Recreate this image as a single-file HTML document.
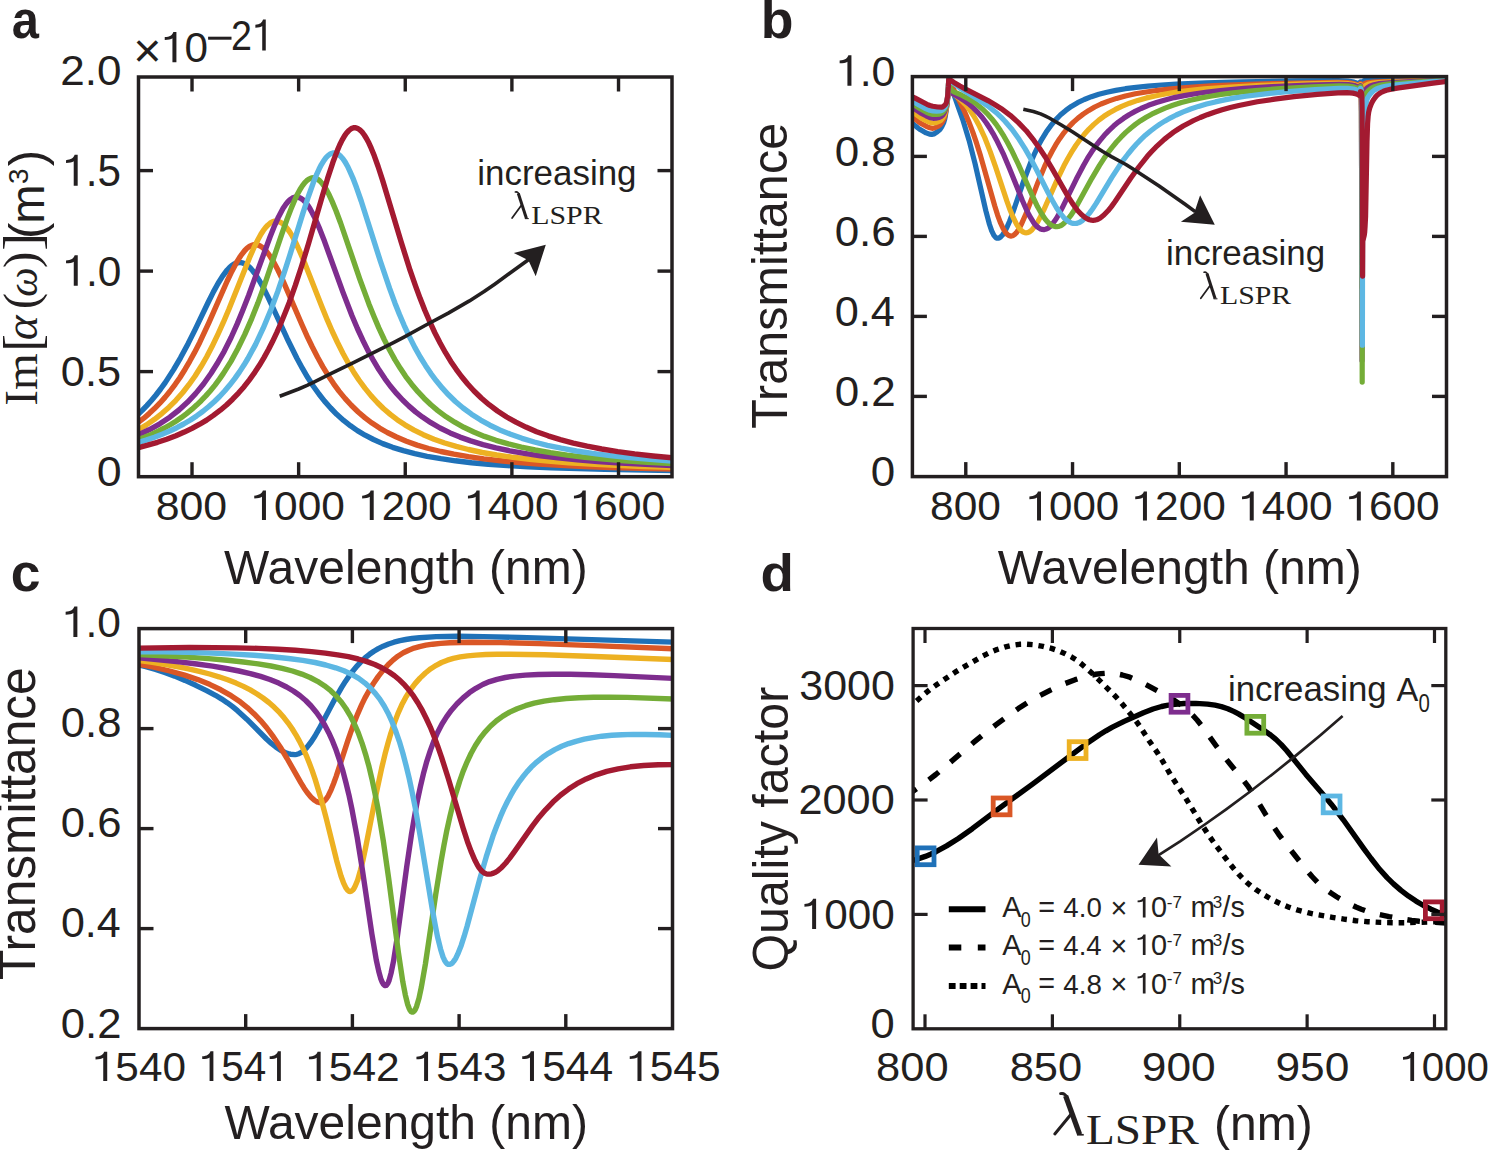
<!DOCTYPE html>
<html><head><meta charset="utf-8"><style>
html,body{margin:0;padding:0;background:#fff;}
svg{display:block;}
text{fill:#231f20;}
</style></head><body>
<svg width="1493" height="1151" viewBox="0 0 1493 1151">
<rect width="1493" height="1151" fill="#fff"/>
<defs><clipPath id="ca"><rect x="138.5" y="77.0" width="533.5" height="399.7"/></clipPath><clipPath id="cb"><rect x="912.4" y="76.6" width="534.1" height="400.0"/></clipPath><clipPath id="cc"><rect x="139.0" y="628.6" width="533.5" height="399.9999999999999"/></clipPath><clipPath id="cd"><rect x="913.1" y="628.5" width="532.6999999999999" height="400.29999999999995"/></clipPath></defs>
<polyline points="137.6,414.8 142.2,410.4 146.8,405.6 151.4,400.5 156.0,395.0 160.6,389.0 165.2,382.6 173.6,369.6 180.5,357.8 188.2,343.4 195.1,329.6 208.1,302.5 213.4,291.9 218.0,283.5 222.6,276.1 227.2,270.0 229.5,267.6 231.8,265.6 234.1,264.1 236.4,263.1 238.7,262.6 241.0,262.6 243.3,263.2 245.6,264.3 247.9,265.9 250.2,267.9 252.5,270.5 254.8,273.5 259.4,280.6 263.2,287.5 267.8,296.6 287.0,338.2 296.9,358.3 302.3,368.2 307.6,377.3 313.0,385.7 319.1,394.3 324.5,401.1 330.6,408.0 336.7,414.3 343.6,420.4 350.5,425.8 357.4,430.6 365.1,435.2 373.5,439.5 382.7,443.6 392.6,447.3 403.4,450.7 414.8,453.7 427.1,456.3 440.9,458.7 455.4,460.8 471.5,462.7 488.3,464.2 507.5,465.6 528.2,466.8 551.1,467.8 604.7,469.4 672.9,470.5" fill="none" stroke="#1f71b8" stroke-width="5.4" stroke-linejoin="round" stroke-linecap="butt" clip-path="url(#ca)" />
<polyline points="137.6,422.9 143.8,418.2 149.1,413.6 154.5,408.6 159.8,403.2 165.2,397.1 169.8,391.5 175.2,384.3 179.8,377.7 185.1,369.2 189.7,361.3 194.3,352.9 199.7,342.4 208.8,322.8 227.2,281.0 231.8,271.4 236.4,262.7 239.5,257.6 241.8,254.3 244.8,250.5 247.1,248.2 249.4,246.5 251.7,245.3 254.0,244.7 256.3,244.7 257.9,245.0 260.2,246.0 262.5,247.5 264.7,249.5 267.0,252.1 269.3,255.1 273.9,262.5 277.8,269.8 282.4,279.4 302.3,325.5 307.6,337.3 312.2,346.8 317.6,357.3 322.9,366.9 328.3,375.7 333.7,383.8 339.0,391.1 345.2,398.6 351.3,405.3 358.2,412.0 365.1,417.9 372.0,423.1 379.6,428.1 387.3,432.5 396.5,437.0 406.4,441.2 417.1,445.1 428.6,448.5 440.9,451.5 453.9,454.2 468.4,456.7 483.8,458.9 500.6,460.8 519.0,462.5 538.9,464.0 560.3,465.3 584.1,466.5 610.9,467.5 672.9,469.0" fill="none" stroke="#da5726" stroke-width="5.4" stroke-linejoin="round" stroke-linecap="butt" clip-path="url(#ca)" />
<polyline points="137.6,430.1 146.1,425.1 154.5,419.3 162.1,413.3 169.0,407.2 175.9,400.3 182.8,392.5 188.9,384.7 195.1,376.0 201.2,366.3 206.6,357.0 211.9,346.8 218.0,334.1 223.4,322.2 228.8,309.5 249.4,257.9 254.0,247.5 257.9,239.8 260.9,234.3 263.2,230.7 265.5,227.7 267.8,225.2 270.1,223.2 272.4,221.9 274.7,221.2 277.0,221.1 278.5,221.4 280.8,222.4 283.1,224.1 285.4,226.3 287.7,229.1 290.0,232.4 292.3,236.2 295.4,242.0 299.2,250.1 303.8,260.8 322.2,307.4 327.5,320.4 332.1,331.0 337.5,342.5 342.9,353.2 348.2,363.0 353.6,371.9 358.9,380.0 365.1,388.4 371.2,395.9 377.3,402.5 383.4,408.5 390.3,414.4 397.2,419.7 404.9,424.8 414.1,430.1 423.3,434.7 434.0,439.2 444.7,443.0 456.2,446.4 468.4,449.5 482.2,452.5 496.8,455.0 512.9,457.3 529.7,459.3 548.1,461.1 568.8,462.7 591.0,464.1 615.5,465.4 643.0,466.5 672.9,467.4" fill="none" stroke="#edb122" stroke-width="5.4" stroke-linejoin="round" stroke-linecap="butt" clip-path="url(#ca)" />
<polyline points="137.6,435.2 149.1,429.8 159.8,423.8 169.8,417.2 179.0,410.0 187.4,402.3 195.8,393.4 203.5,384.0 211.1,373.3 218.0,362.2 224.2,351.3 231.1,337.5 237.2,323.9 242.5,311.0 248.7,295.2 270.1,236.7 274.7,225.3 278.5,216.9 283.1,208.3 285.4,204.9 287.7,202.0 290.0,199.7 292.3,198.1 294.6,197.2 296.9,197.0 298.4,197.2 300.7,198.2 303.0,199.8 305.3,202.1 307.6,205.1 309.9,208.6 312.2,212.7 315.3,218.9 319.1,227.6 323.7,239.2 342.9,292.1 352.0,315.8 357.4,328.5 362.8,340.2 368.1,350.9 373.5,360.7 378.8,369.6 385.0,378.8 390.3,386.0 396.5,393.4 402.6,400.0 408.7,405.9 415.6,411.9 422.5,417.1 430.9,422.7 440.1,428.0 450.1,432.9 460.0,437.1 470.7,440.9 483.0,444.6 496.0,447.9 509.8,450.8 524.3,453.4 540.4,455.8 558.0,457.9 577.2,459.8 597.9,461.5 620.8,463.0 645.3,464.3 672.9,465.5" fill="none" stroke="#7e2d8e" stroke-width="5.4" stroke-linejoin="round" stroke-linecap="butt" clip-path="url(#ca)" />
<polyline points="137.6,439.9 144.5,437.3 151.4,434.4 158.3,431.2 164.4,428.0 170.6,424.5 175.9,421.2 181.3,417.6 186.6,413.6 192.0,409.2 196.6,405.1 201.2,400.7 205.8,395.9 210.4,390.7 215.0,385.1 219.6,378.9 223.4,373.4 231.1,361.1 237.9,348.5 244.8,334.4 251.7,318.6 257.9,303.1 264.0,286.4 281.6,234.7 287.0,219.4 291.6,207.4 295.4,198.5 297.7,193.7 300.0,189.5 302.3,185.9 304.6,182.9 306.9,180.5 309.2,178.9 311.5,178.0 313.8,177.8 315.3,178.1 317.6,179.2 319.9,181.0 322.2,183.5 324.5,186.7 326.8,190.5 329.1,194.8 332.1,201.4 336.0,210.7 340.6,223.0 359.7,278.8 368.9,303.9 374.3,317.2 378.8,327.9 384.2,339.5 389.6,350.0 394.9,359.6 400.3,368.3 405.6,376.3 411.8,384.4 417.9,391.7 424.0,398.2 430.9,404.8 437.8,410.6 446.2,416.8 454.7,422.2 463.8,427.3 473.8,432.0 484.5,436.4 496.0,440.3 508.3,443.9 521.3,447.1 535.1,450.0 550.4,452.7 567.2,455.1 584.8,457.2 604.0,459.1 624.7,460.8 647.6,462.4 672.9,463.7" fill="none" stroke="#74ad37" stroke-width="5.4" stroke-linejoin="round" stroke-linecap="butt" clip-path="url(#ca)" />
<polyline points="137.6,442.6 146.1,440.1 154.5,437.2 162.1,434.2 169.8,431.0 176.7,427.7 183.6,424.0 190.5,420.0 196.6,415.9 202.7,411.5 208.8,406.5 214.2,401.7 219.6,396.5 224.9,390.7 229.5,385.3 234.9,378.4 239.5,371.9 244.1,364.8 247.9,358.5 255.6,344.4 263.2,328.2 270.9,309.8 277.8,291.4 284.7,271.2 290.8,252.2 303.0,212.9 308.4,196.5 313.0,183.6 316.8,174.1 319.1,169.1 321.4,164.6 323.7,160.8 326.0,157.7 328.3,155.4 330.6,153.8 332.9,153.0 334.4,152.9 336.0,153.2 338.3,154.3 340.6,156.2 342.9,158.8 345.2,162.1 347.5,166.2 349.7,170.8 352.8,177.8 356.6,187.8 361.2,201.0 380.4,261.3 389.6,288.4 394.9,302.9 399.5,314.5 404.1,325.3 409.5,336.9 414.8,347.4 420.2,357.0 425.6,365.7 430.9,373.6 436.3,380.8 442.4,388.2 448.5,394.8 455.4,401.5 463.1,408.0 471.5,414.2 480.7,420.1 489.9,425.2 499.8,429.9 510.6,434.3 522.0,438.3 534.3,442.0 547.3,445.3 561.1,448.2 576.4,451.0 592.5,453.4 610.1,455.6 629.2,457.6 649.9,459.4 672.9,461.0" fill="none" stroke="#5db7e3" stroke-width="5.4" stroke-linejoin="round" stroke-linecap="butt" clip-path="url(#ca)" />
<polyline points="137.6,447.8 147.6,445.2 157.5,442.3 166.7,439.2 175.9,435.7 184.3,432.1 192.0,428.4 199.7,424.2 206.6,420.1 213.4,415.4 220.3,410.2 226.5,405.0 232.6,399.2 238.7,392.8 244.1,386.7 249.4,379.8 254.8,372.3 259.4,365.3 264.0,357.6 268.6,349.3 272.4,341.8 277.0,332.2 280.8,323.5 285.4,312.3 289.3,302.4 295.4,285.2 301.5,266.5 308.4,244.0 322.2,196.5 327.5,178.7 332.9,162.3 337.5,150.1 339.8,144.8 342.1,140.1 344.4,136.1 346.7,132.8 349.0,130.3 351.3,128.6 353.6,127.8 355.1,127.7 357.4,128.3 359.7,129.7 362.0,131.9 364.3,135.0 366.6,138.7 368.9,143.1 371.2,148.2 374.3,155.8 378.1,166.5 382.7,180.6 401.1,241.8 410.2,270.7 415.6,286.2 420.2,298.6 424.8,310.2 430.2,322.7 434.7,332.5 440.1,343.0 445.5,352.7 450.8,361.4 456.2,369.3 461.5,376.5 467.7,384.0 473.8,390.7 481.5,398.2 489.1,404.7 497.5,411.0 506.7,417.0 515.9,422.2 525.9,427.1 536.6,431.7 548.1,435.8 560.3,439.6 573.3,443.1 587.1,446.2 601.7,449.0 617.8,451.6 634.6,453.9 653.0,456.0 672.9,457.9" fill="none" stroke="#a31a31" stroke-width="5.4" stroke-linejoin="round" stroke-linecap="butt" clip-path="url(#ca)" />
<polyline points="911.3,122.4 918.0,128.0 920.2,129.6 926.1,132.9 929.5,134.1 931.7,134.4 933.9,133.9 936.9,132.1 939.9,129.5 941.7,126.8 943.6,122.9 944.7,119.3 945.4,115.7 947.3,103.0 948.4,89.4 948.7,78.9 952.4,90.3 963.2,120.9 969.1,140.4 975.0,163.4 985.8,210.7 989.5,224.5 991.7,230.9 993.9,235.4 995.8,237.6 996.9,238.2 998.0,238.2 999.1,237.9 1000.2,237.3 1002.5,235.0 1004.7,231.7 1007.3,226.6 1009.5,221.4 1012.1,214.6 1024.3,179.2 1031.0,161.8 1034.7,153.3 1038.4,145.6 1042.1,138.8 1046.2,132.1 1050.6,125.9 1055.4,120.1 1060.6,114.8 1065.8,110.4 1071.3,106.4 1077.6,102.7 1084.3,99.5 1091.4,96.7 1098.8,94.3 1106.9,92.2 1115.8,90.4 1125.4,88.7 1136.2,87.3 1148.0,86.1 1161.4,85.0 1176.2,84.1 1205.8,82.8 1242.8,81.8 1296.6,80.9 1338.0,80.6 1347.7,81.1 1351.0,81.5 1354.0,82.1 1356.6,83.0 1358.6,84.1 1359.9,85.2 1360.5,86.6 1360.5,81.8 1361.0,85.8 1361.3,96.5 1361.6,175.8 1361.9,93.9 1362.4,84.5 1362.8,82.3 1363.4,81.1 1363.9,80.7 1364.6,80.5 1367.8,80.3 1447.3,79.1" fill="none" stroke="#1f71b8" stroke-width="5.2" stroke-linejoin="round" stroke-linecap="butt" clip-path="url(#cb)" />
<polyline points="911.3,116.3 920.2,123.0 925.8,126.1 929.9,127.8 932.1,128.3 934.3,128.0 937.6,126.5 939.1,125.6 940.2,124.7 942.1,122.4 943.9,118.9 944.7,116.6 945.8,111.7 946.9,104.9 947.6,98.2 948.4,89.0 948.7,78.9 952.4,87.0 960.6,103.3 964.7,111.9 968.7,121.4 972.8,132.1 976.5,142.9 980.6,156.1 994.7,205.8 997.6,215.1 1000.2,222.2 1003.2,228.7 1005.8,232.8 1007.3,234.4 1008.8,235.5 1009.9,235.9 1011.3,236.1 1012.5,235.8 1013.6,235.2 1014.7,234.4 1016.2,232.9 1018.8,229.2 1021.3,224.4 1026.2,213.3 1038.0,182.2 1044.7,166.2 1048.4,158.3 1052.1,151.2 1055.8,144.7 1059.5,138.9 1063.9,132.8 1068.4,127.4 1073.2,122.4 1078.0,118.1 1083.2,114.1 1088.8,110.4 1094.7,107.0 1101.0,104.0 1108.4,101.1 1116.5,98.4 1125.4,96.0 1135.4,93.8 1146.2,92.0 1158.0,90.3 1171.4,88.8 1185.8,87.5 1214.3,85.7 1248.8,84.3 1294.7,83.0 1337.3,82.4 1347.3,82.7 1351.0,83.1 1354.0,83.7 1356.6,84.6 1358.6,85.7 1359.8,86.9 1360.5,88.3 1360.5,83.6 1360.9,85.3 1361.1,88.5 1361.4,102.1 1361.7,215.0 1362.1,102.1 1362.6,89.7 1363.1,86.2 1363.7,84.3 1364.8,83.4 1366.9,82.8 1370.8,82.3 1376.1,81.8 1447.3,79.5" fill="none" stroke="#da5726" stroke-width="5.2" stroke-linejoin="round" stroke-linecap="butt" clip-path="url(#cb)" />
<polyline points="911.3,111.1 920.2,117.4 926.1,120.6 930.6,122.6 932.8,123.0 935.4,122.7 939.1,121.4 941.0,120.2 942.8,117.9 944.3,115.2 945.4,111.6 946.2,108.2 947.3,101.4 947.6,97.8 948.4,88.6 948.7,79.3 949.9,87.5 950.6,90.1 951.3,91.7 953.2,93.8 958.4,97.9 961.7,100.9 964.7,103.9 967.3,106.9 970.6,111.3 973.6,115.7 976.5,120.7 979.5,126.3 984.7,137.5 990.2,151.6 995.4,166.4 1006.9,201.1 1010.2,210.3 1013.2,217.5 1016.5,224.2 1018.4,227.2 1019.9,229.1 1021.7,231.0 1023.2,232.0 1024.7,232.6 1026.5,232.8 1027.6,232.6 1029.1,232.0 1030.6,231.0 1032.1,229.7 1035.0,226.1 1038.0,221.4 1040.6,216.5 1043.6,210.4 1056.9,180.4 1063.9,165.8 1068.0,158.2 1071.7,151.9 1075.8,145.5 1079.9,139.8 1084.3,134.3 1088.8,129.3 1093.6,124.6 1098.8,120.1 1103.9,116.3 1109.5,112.7 1115.4,109.4 1121.7,106.3 1129.5,103.2 1137.7,100.4 1146.5,97.9 1156.2,95.7 1166.5,93.7 1178.0,91.9 1190.6,90.3 1204.3,88.9 1230.3,87.0 1261.4,85.4 1302.5,83.9 1338.4,83.2 1348.0,83.6 1351.4,84.0 1354.3,84.6 1356.8,85.5 1358.7,86.6 1359.8,87.8 1360.5,89.3 1360.5,84.6 1361.0,87.0 1361.2,91.6 1361.5,112.7 1361.9,286.9 1362.3,115.3 1362.5,104.3 1362.9,96.6 1363.5,90.3 1364.2,87.0 1364.7,86.1 1365.4,85.5 1367.9,84.3 1372.1,83.3 1377.6,82.6 1387.4,82.0 1447.3,79.6" fill="none" stroke="#edb122" stroke-width="5.2" stroke-linejoin="round" stroke-linecap="butt" clip-path="url(#cb)" />
<polyline points="911.3,106.8 920.2,112.6 926.1,115.8 930.6,117.8 933.2,118.3 935.8,118.2 939.1,117.5 941.3,116.4 942.8,115.0 944.3,112.7 945.4,109.7 946.5,105.1 947.3,100.8 947.6,97.3 948.4,88.2 948.7,79.4 949.1,83.2 949.9,88.1 950.6,90.7 951.7,92.7 953.6,94.3 960.2,98.0 965.0,101.2 969.5,104.5 973.6,108.1 978.0,112.6 982.1,117.3 986.2,122.7 989.9,128.3 993.2,133.8 996.5,139.9 1003.2,153.6 1009.5,168.4 1022.5,200.7 1026.2,209.1 1029.1,215.1 1033.2,221.9 1035.0,224.4 1036.9,226.4 1038.8,227.9 1040.6,229.0 1042.1,229.4 1043.9,229.6 1045.4,229.3 1046.9,228.8 1048.4,227.9 1049.9,226.7 1052.8,223.5 1056.2,218.7 1059.1,213.7 1062.1,208.1 1076.2,179.3 1083.6,165.3 1087.6,158.2 1091.7,151.8 1095.8,145.9 1099.9,140.6 1104.3,135.3 1108.8,130.6 1113.6,126.1 1118.4,122.1 1123.6,118.3 1129.1,114.7 1135.1,111.4 1141.0,108.5 1148.4,105.3 1156.5,102.5 1165.1,99.9 1174.3,97.6 1184.3,95.6 1195.4,93.7 1207.3,92.0 1220.3,90.5 1244.3,88.4 1272.1,86.6 1308.8,85.1 1339.2,84.3 1348.4,84.6 1351.7,85.0 1354.3,85.6 1356.8,86.4 1358.6,87.5 1359.8,88.8 1360.5,90.3 1360.5,85.6 1361.0,88.2 1361.3,93.3 1361.7,119.3 1362.0,360.5 1362.2,189.2 1362.5,133.9 1362.7,121.5 1363.1,111.9 1364.1,96.9 1364.5,93.3 1365.0,91.0 1365.6,89.7 1366.5,88.5 1367.9,87.4 1369.7,86.3 1374.0,84.7 1379.5,83.6 1391.3,82.6 1447.3,79.8" fill="none" stroke="#7e2d8e" stroke-width="5.2" stroke-linejoin="round" stroke-linecap="butt" clip-path="url(#cb)" />
<polyline points="911.3,103.5 913.9,104.9 920.2,108.8 926.1,112.0 930.2,113.8 932.8,114.4 936.1,114.5 939.5,114.1 941.7,113.2 943.2,111.9 944.7,109.7 945.8,106.9 946.5,104.1 947.3,100.2 947.6,96.9 948.4,87.8 948.7,79.2 949.5,84.5 950.2,87.4 951.0,89.1 952.1,90.6 953.9,91.8 961.7,95.2 967.3,98.1 972.5,101.2 977.3,104.7 982.1,108.7 986.9,113.3 991.7,118.7 996.2,124.4 1000.2,130.3 1003.9,136.2 1007.6,142.7 1011.3,149.7 1018.4,164.4 1033.6,198.5 1037.6,206.8 1041.0,212.8 1045.1,219.0 1047.3,221.6 1049.1,223.4 1051.3,225.1 1053.2,226.0 1055.1,226.6 1056.9,226.7 1058.4,226.5 1060.2,225.9 1061.7,225.1 1063.6,223.7 1066.9,220.4 1070.6,215.7 1073.6,211.2 1076.9,205.6 1091.7,178.6 1099.5,165.4 1103.9,158.6 1108.0,152.7 1112.1,147.4 1116.5,142.0 1121.0,137.2 1125.8,132.4 1130.6,128.2 1135.4,124.4 1140.6,120.7 1146.2,117.3 1151.7,114.2 1157.7,111.3 1165.1,108.1 1172.8,105.3 1181.4,102.6 1190.3,100.3 1199.9,98.1 1210.3,96.2 1221.4,94.4 1233.2,92.9 1255.1,90.6 1280.3,88.6 1312.5,86.9 1339.2,85.9 1348.4,86.1 1351.7,86.5 1354.3,87.1 1356.7,87.9 1358.6,88.9 1359.8,90.1 1360.5,91.5 1360.5,86.7 1361.1,89.3 1361.5,94.5 1361.8,120.8 1362.2,382.1 1362.4,207.1 1362.6,150.2 1363.0,134.4 1364.3,107.0 1364.9,99.2 1365.6,95.0 1366.3,93.3 1367.4,91.7 1369.0,90.0 1370.9,88.5 1372.9,87.4 1375.1,86.4 1380.5,85.0 1385.4,84.3 1392.8,83.7 1447.3,80.1" fill="none" stroke="#74ad37" stroke-width="5.2" stroke-linejoin="round" stroke-linecap="butt" clip-path="url(#cb)" />
<polyline points="911.3,100.7 913.9,102.0 919.5,105.2 925.8,108.6 929.9,110.3 932.8,110.9 936.5,111.1 939.9,110.9 942.1,110.2 943.6,109.1 945.0,107.0 946.2,104.5 946.9,101.5 947.6,96.6 948.4,87.4 948.7,78.8 953.6,83.3 959.5,87.8 965.0,91.4 980.6,101.0 989.1,106.9 997.3,113.6 1001.3,117.4 1005.0,121.2 1012.1,129.5 1019.1,139.3 1025.0,148.6 1031.0,159.1 1036.5,169.7 1048.0,192.5 1052.5,200.8 1056.5,207.7 1060.2,213.2 1063.9,217.7 1067.6,220.9 1069.5,222.1 1071.3,222.9 1073.2,223.4 1075.1,223.5 1076.5,223.4 1078.4,222.8 1080.2,222.0 1082.1,220.8 1085.8,217.4 1089.5,213.1 1092.5,209.0 1096.2,203.4 1111.7,177.7 1119.5,165.6 1123.9,159.3 1128.0,154.0 1132.1,149.0 1136.5,144.0 1141.0,139.4 1145.4,135.2 1150.2,131.2 1155.1,127.5 1159.9,124.1 1165.1,120.9 1170.6,117.8 1176.2,115.0 1183.2,111.9 1190.6,109.0 1198.4,106.4 1206.5,104.1 1215.4,101.9 1224.7,99.9 1235.1,97.9 1245.8,96.3 1265.4,93.8 1287.7,91.6 1315.1,89.6 1338.8,88.4 1347.7,88.4 1353.6,89.1 1356.1,89.8 1358.1,90.7 1359.6,91.8 1360.5,93.0 1360.5,88.3 1361.2,90.1 1361.6,94.0 1362.0,115.4 1362.4,345.2 1362.6,212.3 1362.8,174.8 1363.1,164.9 1364.3,143.8 1365.4,111.6 1366.0,104.2 1366.9,99.8 1367.8,97.6 1369.2,95.4 1370.8,93.3 1372.7,91.5 1374.6,90.0 1376.6,88.9 1379.0,87.9 1382.0,87.1 1386.9,86.1 1394.3,85.2 1432.5,81.7 1447.3,80.5" fill="none" stroke="#5db7e3" stroke-width="5.2" stroke-linejoin="round" stroke-linecap="butt" clip-path="url(#cb)" />
<polyline points="911.3,96.4 914.7,97.9 926.9,104.3 929.9,105.5 932.8,106.2 937.6,107.0 941.3,107.2 942.4,106.9 943.9,106.0 945.4,104.5 946.2,103.2 946.9,100.6 947.6,96.2 948.4,86.9 948.7,78.8 953.9,82.4 959.9,86.0 966.5,89.6 988.0,100.6 995.0,104.7 1001.3,108.7 1010.2,115.3 1018.4,122.6 1026.2,130.7 1033.9,140.4 1039.5,148.2 1045.1,156.7 1051.7,167.9 1068.0,196.4 1073.2,204.5 1077.6,210.5 1081.7,214.8 1085.4,217.8 1087.6,219.0 1089.5,219.7 1091.4,220.1 1093.2,220.3 1094.7,220.2 1096.5,219.8 1098.4,219.0 1100.2,218.0 1103.9,215.0 1108.0,210.8 1111.4,206.6 1115.1,201.5 1131.0,177.8 1138.8,167.0 1147.3,156.3 1151.4,151.8 1155.8,147.2 1164.3,139.4 1168.8,135.8 1173.6,132.2 1178.4,129.0 1183.2,126.0 1193.6,120.5 1200.3,117.5 1207.3,114.7 1214.3,112.2 1222.1,109.8 1230.3,107.5 1238.8,105.5 1257.3,101.8 1274.7,99.1 1294.0,96.7 1317.3,94.4 1338.0,92.9 1346.9,92.6 1352.9,93.1 1355.5,93.7 1357.5,94.4 1359.3,95.3 1360.5,96.3 1360.5,91.5 1361.0,91.9 1361.4,92.4 1361.8,94.3 1362.1,108.0 1362.6,276.1 1362.8,241.0 1364.3,235.0 1364.7,232.2 1365.1,226.2 1365.6,216.3 1367.0,141.9 1367.6,123.4 1368.1,116.7 1368.7,112.2 1369.6,108.4 1371.1,104.4 1372.4,101.7 1373.9,99.2 1375.6,96.9 1377.1,95.3 1379.0,93.7 1381.0,92.5 1383.5,91.3 1386.4,90.2 1391.3,89.1 1398.7,87.9 1433.0,83.1 1447.3,81.4" fill="none" stroke="#a31a31" stroke-width="5.2" stroke-linejoin="round" stroke-linecap="butt" clip-path="url(#cb)" />
<polyline points="136.0,664.3 145.8,666.7 155.6,669.5 165.4,672.7 174.7,676.1 185.0,680.4 195.8,685.3 206.6,690.6 215.5,695.3 221.8,699.1 227.2,702.7 232.6,706.7 237.5,710.7 246.8,719.2 266.5,739.0 271.4,743.5 275.8,747.0 280.7,750.3 285.6,752.7 288.0,753.6 290.5,754.2 294.9,754.6 296.9,754.3 298.8,753.7 300.8,752.7 302.8,751.4 306.7,747.7 311.1,742.0 315.0,736.0 318.9,729.2 334.1,700.6 341.5,687.7 345.4,681.4 349.3,675.7 353.3,670.5 357.2,665.8 361.1,661.6 365.0,657.9 369.5,654.3 373.9,651.2 378.3,648.6 383.2,646.2 388.6,644.0 394.0,642.2 399.9,640.6 405.7,639.5 412.1,638.5 419.5,637.7 436.2,636.6 457.7,636.3 483.2,636.6 519.0,637.4 675.0,642.2" fill="none" stroke="#1f71b8" stroke-width="5.4" stroke-linejoin="round" stroke-linecap="butt" clip-path="url(#cc)" />
<polyline points="136.0,663.6 153.7,667.1 169.8,671.0 184.6,675.1 197.8,679.6 210.1,684.6 220.8,689.8 231.1,695.7 240.5,702.1 247.3,707.6 254.2,713.9 260.6,720.6 266.5,727.5 273.3,736.7 280.2,747.0 287.1,758.5 300.8,782.6 304.2,788.2 307.2,792.5 311.1,797.2 314.5,800.3 316.5,801.5 318.0,802.2 319.4,802.5 320.9,802.7 321.9,802.5 323.4,801.8 324.3,801.0 325.8,799.4 328.3,795.7 331.2,789.6 333.6,783.5 336.1,776.6 347.9,740.4 354.2,722.4 357.7,713.8 361.6,704.9 365.0,697.9 369.0,690.7 373.4,683.5 378.3,676.4 383.2,670.2 388.1,664.7 393.0,660.1 397.9,656.2 403.3,652.8 408.7,650.2 414.1,648.1 419.5,646.6 425.9,645.2 432.7,644.2 440.6,643.4 449.9,642.8 472.0,642.3 500.9,642.6 539.6,643.6 594.1,645.6 675.0,648.9" fill="none" stroke="#da5726" stroke-width="5.4" stroke-linejoin="round" stroke-linecap="butt" clip-path="url(#cc)" />
<polyline points="136.0,660.1 150.7,662.1 164.4,664.3 176.7,666.5 188.5,668.8 199.3,671.3 209.6,674.0 218.9,676.8 227.7,679.8 236.1,683.1 243.4,686.4 250.3,689.9 257.1,694.0 263.0,698.0 268.9,702.5 274.3,707.3 279.7,712.7 284.1,717.8 288.0,722.8 292.0,728.5 295.9,734.8 299.3,740.9 302.8,747.8 306.2,755.3 309.1,762.5 312.1,770.4 315.0,778.9 320.9,798.3 326.3,818.6 336.6,860.4 341.0,876.0 343.5,882.8 345.9,887.9 347.4,889.9 348.4,890.8 349.3,891.3 350.3,891.5 351.3,891.2 352.8,890.0 353.8,888.8 355.2,886.1 357.7,879.9 360.6,869.7 363.1,859.5 365.5,848.1 376.3,793.3 381.7,768.0 385.1,753.8 388.1,742.7 391.0,732.8 394.5,722.6 397.9,713.6 401.8,704.8 405.7,697.4 410.2,690.2 415.1,683.6 420.0,678.1 425.4,673.0 430.8,668.7 436.2,665.3 441.5,662.5 447.4,660.2 453.3,658.4 460.2,656.9 467.5,655.9 475.9,655.1 485.7,654.5 497.0,654.3 510.2,654.2 544.5,654.8 594.6,656.5 675.0,659.6" fill="none" stroke="#edb122" stroke-width="5.4" stroke-linejoin="round" stroke-linecap="butt" clip-path="url(#cc)" />
<polyline points="136.0,657.5 159.1,659.7 179.2,661.9 196.8,664.0 212.5,666.2 226.2,668.5 239.0,671.0 250.3,673.6 260.6,676.4 269.9,679.5 278.7,683.1 286.6,687.0 293.4,691.0 299.8,695.5 305.7,700.5 311.1,706.0 316.5,712.5 320.9,718.8 324.8,725.2 328.7,732.7 332.7,741.4 336.1,750.1 339.5,760.1 343.0,771.4 345.9,782.5 348.9,794.8 351.8,808.5 357.2,837.5 362.1,867.9 371.9,934.1 376.3,960.1 378.8,971.5 380.7,978.4 382.2,982.2 383.2,983.9 384.2,985.1 385.1,985.6 386.1,985.4 387.1,984.5 388.1,982.8 389.1,980.4 391.0,973.4 393.5,961.3 397.4,936.1 406.7,866.8 411.6,833.5 414.6,815.9 417.5,800.1 420.5,786.1 423.4,773.8 426.8,761.3 430.3,750.6 433.7,741.4 437.6,732.5 442.0,724.0 446.5,716.9 451.4,710.2 456.8,704.0 463.1,697.8 469.5,692.6 475.9,688.3 482.7,684.5 489.6,681.6 497.0,679.3 505.3,677.5 514.6,676.1 525.4,675.1 538.2,674.5 552.9,674.2 570.5,674.3 590.6,674.8 614.2,675.6 675.0,678.5" fill="none" stroke="#7e2d8e" stroke-width="5.4" stroke-linejoin="round" stroke-linecap="butt" clip-path="url(#cc)" />
<polyline points="136.0,654.3 187.5,657.1 208.6,658.6 227.2,660.2 243.4,662.0 258.1,663.9 270.9,666.0 282.2,668.4 292.5,671.0 301.8,674.1 310.1,677.5 317.5,681.3 324.3,685.7 330.7,690.7 336.1,695.9 341.5,702.2 345.9,708.5 350.3,715.8 354.2,723.6 358.2,732.6 362.1,743.3 365.5,754.1 369.0,766.6 371.9,778.8 374.8,792.5 377.8,807.8 383.2,840.2 388.6,878.0 398.4,952.6 402.8,981.8 405.3,994.8 407.7,1004.5 409.2,1008.5 410.2,1010.4 411.1,1011.6 412.1,1012.1 413.1,1012.0 414.1,1011.2 415.1,1009.8 416.5,1006.6 419.0,998.3 421.4,986.9 425.4,964.0 435.7,894.7 441.1,861.3 444.0,845.0 446.9,830.1 449.9,816.7 452.8,804.6 456.3,792.1 459.7,781.1 463.1,771.4 467.1,761.8 471.0,753.5 475.4,745.5 479.8,738.7 484.7,732.3 490.6,726.0 496.5,720.7 502.9,716.1 509.7,712.1 517.1,708.7 525.4,705.7 534.2,703.2 544.1,701.2 554.4,699.7 566.1,698.5 578.9,697.7 593.6,697.2 609.3,697.2 627.4,697.4 675.0,699.0" fill="none" stroke="#74ad37" stroke-width="5.4" stroke-linejoin="round" stroke-linecap="butt" clip-path="url(#cc)" />
<polyline points="136.0,651.7 163.0,651.9 188.5,652.4 212.0,653.1 234.1,654.1 254.2,655.3 272.3,656.8 288.5,658.5 302.8,660.4 315.0,662.5 325.8,665.0 335.6,667.8 343.9,670.8 351.8,674.4 358.7,678.4 365.0,683.1 370.4,688.0 375.3,693.4 379.8,699.1 384.2,706.0 388.1,713.2 392.0,721.7 395.9,731.6 399.4,741.6 402.8,753.0 406.2,766.0 409.2,778.4 412.1,792.0 415.1,806.9 420.9,840.1 432.2,908.8 435.2,925.1 437.6,937.2 440.6,949.2 443.0,956.9 444.5,960.2 446.0,962.6 447.4,964.0 448.4,964.4 449.9,964.3 451.4,963.7 452.8,962.4 454.3,960.5 455.8,958.2 457.7,954.2 461.2,945.4 464.1,936.4 467.1,926.3 479.8,879.0 486.2,856.9 493.0,835.8 496.5,826.5 500.4,816.7 503.8,808.9 507.3,801.8 510.7,795.4 514.6,788.7 518.5,782.7 522.5,777.3 526.9,771.9 531.3,767.1 536.7,762.1 542.6,757.3 548.5,753.3 554.8,749.6 561.7,746.3 568.6,743.6 575.9,741.3 584.3,739.2 592.6,737.6 601.9,736.2 611.7,735.3 622.0,734.7 633.3,734.4 645.6,734.5 659.3,734.8 675.0,735.5" fill="none" stroke="#5db7e3" stroke-width="5.4" stroke-linejoin="round" stroke-linecap="butt" clip-path="url(#cc)" />
<polyline points="136.0,648.2 189.5,647.5 214.0,647.6 236.5,647.9 258.1,648.4 277.7,649.2 295.4,650.3 311.6,651.6 325.3,653.1 337.6,654.8 348.4,656.7 358.2,659.0 367.0,661.6 374.8,664.5 382.2,668.0 389.1,672.0 394.5,675.8 399.9,680.3 404.8,685.2 409.2,690.3 413.6,696.2 418.0,703.0 422.4,710.7 426.3,718.5 430.3,727.1 433.7,735.5 437.6,745.9 441.5,757.1 448.4,778.7 463.6,829.7 467.5,841.7 471.0,851.1 474.9,860.3 476.9,864.1 478.8,867.3 480.8,870.0 482.7,871.9 484.7,873.3 486.2,873.8 487.6,874.1 489.6,874.1 491.6,873.8 493.5,873.1 495.5,872.2 497.5,871.0 501.9,867.2 505.8,863.0 509.7,858.1 514.6,851.4 532.3,826.1 539.1,817.2 545.5,809.8 552.9,802.1 560.7,795.0 568.6,789.1 576.9,783.7 586.2,778.9 596.0,774.8 606.8,771.4 618.1,768.8 630.4,766.8 643.6,765.5 658.3,764.8 675.0,764.6" fill="none" stroke="#a31a31" stroke-width="5.4" stroke-linejoin="round" stroke-linecap="butt" clip-path="url(#cc)" />
<polyline points="912.2,704.9 924.0,694.4 930.4,689.1 936.9,684.5 956.1,671.6 961.5,668.3 981.9,656.5 989.4,652.8 996.9,649.6 1004.4,647.2 1011.9,645.4 1019.4,644.3 1025.8,644.1 1033.3,644.7 1043.0,646.3 1051.5,648.4 1059.0,651.0 1065.5,653.9 1071.9,657.2 1076.2,659.9 1080.5,663.1 1091.2,672.5 1097.6,678.6 1114.8,695.7 1118.0,699.1 1122.3,704.1 1133.0,717.1 1137.3,722.7 1140.5,727.3 1149.1,740.7 1157.6,753.0 1161.9,759.9 1171.6,776.6 1185.5,797.8 1201.6,824.3 1208.0,834.2 1215.5,844.9 1228.4,861.9 1233.7,868.5 1239.1,874.7 1243.4,879.2 1246.6,882.2 1250.9,885.8 1256.2,889.8 1264.8,895.4 1273.4,900.3 1280.9,903.9 1289.5,907.4 1298.0,910.2 1307.7,912.7 1317.3,914.7 1332.3,917.3 1345.2,919.3 1355.9,920.7 1367.7,921.7 1380.6,922.4 1393.4,922.7 1406.3,922.7 1447.0,921.5" fill="none" stroke="#000" stroke-width="5.4" stroke-linejoin="round" stroke-linecap="butt" clip-path="url(#cd)" stroke-dasharray="5.6 5.9" stroke-dashoffset="5.6"/>
<polyline points="912.2,791.8 926.1,781.9 935.8,774.5 944.4,767.4 973.3,742.7 984.0,734.0 995.8,724.9 1008.7,715.4 1018.3,708.6 1027.9,702.4 1037.6,696.8 1050.5,690.1 1063.3,684.2 1075.1,679.7 1085.8,676.4 1095.5,674.3 1100.8,673.6 1105.1,673.3 1109.4,673.3 1113.7,673.6 1118.0,674.1 1122.3,675.0 1129.8,677.2 1138.3,680.9 1146.9,685.2 1168.3,696.6 1174.8,700.6 1181.2,705.1 1187.6,710.4 1193.0,715.5 1197.3,720.3 1201.6,725.6 1216.6,746.5 1224.1,756.5 1230.5,764.5 1242.3,778.8 1247.7,785.8 1254.1,795.4 1265.9,814.8 1272.3,824.9 1278.7,834.3 1285.2,843.1 1304.5,867.5 1312.0,876.5 1318.4,883.2 1321.6,886.1 1325.9,889.5 1331.3,893.3 1336.6,896.7 1343.0,900.5 1349.5,904.0 1355.9,907.0 1361.3,909.2 1366.6,911.1 1372.0,912.7 1379.5,914.6 1389.1,916.6 1400.9,918.7 1411.6,920.4 1419.1,921.3 1426.6,922.0 1447.0,923.0" fill="none" stroke="#000" stroke-width="5.4" stroke-linejoin="round" stroke-linecap="butt" clip-path="url(#cd)" stroke-dasharray="12.7 15.3" stroke-dashoffset="7.5"/>
<polyline points="913.5,860.5 925.3,856.4 930.6,854.2 936.0,851.7 946.6,845.9 958.4,838.5 972.3,828.7 1002.2,806.2 1033.2,783.6 1085.6,744.3 1099.5,734.7 1105.9,730.8 1112.4,727.2 1124.1,721.4 1143.4,712.7 1153.0,709.0 1161.5,706.5 1166.9,705.4 1172.2,704.6 1184.0,703.5 1195.8,703.4 1207.5,704.1 1215.0,705.2 1221.4,706.6 1227.8,708.7 1234.2,711.6 1238.5,713.9 1243.9,717.1 1263.1,729.7 1270.6,735.0 1275.9,739.4 1281.3,744.6 1286.6,750.5 1305.9,774.4 1324.0,795.4 1331.5,804.4 1343.3,819.8 1363.6,848.4 1371.1,858.5 1379.6,869.3 1387.1,877.6 1393.5,883.9 1401.0,890.4 1408.5,896.1 1416.0,901.1 1423.5,905.5 1431.0,909.2 1437.4,912.0 1447.0,915.5" fill="none" stroke="#000" stroke-width="5.4" stroke-linejoin="round" stroke-linecap="butt" clip-path="url(#cd)" />
<rect x="917.2" y="847.9" width="16.8" height="16.8" fill="none" stroke="#1f71b8" stroke-width="4.8"/>
<rect x="993.2" y="798.0" width="16.8" height="16.8" fill="none" stroke="#da5726" stroke-width="4.8"/>
<rect x="1069.2" y="741.7" width="16.8" height="16.8" fill="none" stroke="#edb122" stroke-width="4.8"/>
<rect x="1171.1" y="695.4" width="16.8" height="16.8" fill="none" stroke="#7e2d8e" stroke-width="4.8"/>
<rect x="1246.9" y="716.4" width="16.8" height="16.8" fill="none" stroke="#74ad37" stroke-width="4.8"/>
<rect x="1323.2" y="796.0" width="16.8" height="16.8" fill="none" stroke="#5db7e3" stroke-width="4.8"/>
<rect x="1425.4" y="901.9" width="16.8" height="16.8" fill="none" stroke="#a31a31" stroke-width="4.8"/>
<line x1="948.8" y1="909.3" x2="985.5" y2="909.3" stroke="#000" stroke-width="6"/>
<line x1="948.8" y1="947.4" x2="985.5" y2="947.4" stroke="#000" stroke-width="6" stroke-dasharray="12.5 16.5"/>
<line x1="948.8" y1="986" x2="985.5" y2="986" stroke="#000" stroke-width="6" stroke-dasharray="6.8 4.1"/>
<polyline points="279.7,396.2 298.7,389.0 307.1,385.4 313.4,382.4 330.3,373.9 353.5,362.6 393.5,342.6 404.0,337.1 425.1,325.5 448.3,313.1 469.4,300.9 484.1,291.6 494.7,284.2 530.5,258.2" fill="none" stroke="#231f20" stroke-width="3.6" stroke-linejoin="round" stroke-linecap="butt" />
<path d="M545.8,244.7 L513.8,252.9 L528.4,260.3 L535.7,276.2 Z" fill="#231f20"/>
<polyline points="1023.3,109.3 1033.4,111.5 1040.6,113.9 1045.0,115.8 1049.3,118.0 1060.9,124.7 1072.4,131.8 1094.1,146.0 1102.7,151.5 1111.4,156.6 1125.9,164.5 1133.1,169.0 1159.1,186.0 1185.1,204.3 1195.2,211.6" fill="none" stroke="#231f20" stroke-width="3.6" stroke-linejoin="round" stroke-linecap="butt" />
<path d="M1214.8,224.7 L1200.1,195.2 L1194.2,212.9 L1180.9,221.7 Z" fill="#231f20"/>
<polyline points="1342.6,716.1 1320.4,735.2 1295.2,756.1 1273.2,773.7 1248.2,793.0 1226.5,809.1 1204.8,824.5 1180.1,841.3 1158.6,855.2" fill="none" stroke="#231f20" stroke-width="2.7" stroke-linejoin="round" stroke-linecap="butt" />
<path d="M1138.5,864.8 L1157.0,837.4 L1158.6,854.3 L1171.4,866.4 Z" fill="#231f20"/>
<rect x="138.50" y="77.00" width="533.50" height="399.70" fill="none" stroke="#231f20" stroke-width="3.5"/>
<line x1="192.01" y1="77.00" x2="192.01" y2="91.50" stroke="#231f20" stroke-width="3.4" />
<line x1="192.01" y1="476.70" x2="192.01" y2="462.20" stroke="#231f20" stroke-width="3.4" />
<line x1="298.64" y1="77.00" x2="298.64" y2="91.50" stroke="#231f20" stroke-width="3.4" />
<line x1="298.64" y1="476.70" x2="298.64" y2="462.20" stroke="#231f20" stroke-width="3.4" />
<line x1="405.26" y1="77.00" x2="405.26" y2="91.50" stroke="#231f20" stroke-width="3.4" />
<line x1="405.26" y1="476.70" x2="405.26" y2="462.20" stroke="#231f20" stroke-width="3.4" />
<line x1="511.89" y1="77.00" x2="511.89" y2="91.50" stroke="#231f20" stroke-width="3.4" />
<line x1="511.89" y1="476.70" x2="511.89" y2="462.20" stroke="#231f20" stroke-width="3.4" />
<line x1="618.52" y1="77.00" x2="618.52" y2="91.50" stroke="#231f20" stroke-width="3.4" />
<line x1="618.52" y1="476.70" x2="618.52" y2="462.20" stroke="#231f20" stroke-width="3.4" />
<line x1="138.50" y1="371.60" x2="153.00" y2="371.60" stroke="#231f20" stroke-width="3.4" />
<line x1="672.00" y1="371.60" x2="657.50" y2="371.60" stroke="#231f20" stroke-width="3.4" />
<line x1="138.50" y1="271.10" x2="153.00" y2="271.10" stroke="#231f20" stroke-width="3.4" />
<line x1="672.00" y1="271.10" x2="657.50" y2="271.10" stroke="#231f20" stroke-width="3.4" />
<line x1="138.50" y1="170.60" x2="153.00" y2="170.60" stroke="#231f20" stroke-width="3.4" />
<line x1="672.00" y1="170.60" x2="657.50" y2="170.60" stroke="#231f20" stroke-width="3.4" />
<rect x="912.40" y="76.60" width="534.10" height="400.00" fill="none" stroke="#231f20" stroke-width="3.5"/>
<line x1="965.78" y1="76.60" x2="965.78" y2="91.10" stroke="#231f20" stroke-width="3.4" />
<line x1="965.78" y1="476.60" x2="965.78" y2="462.10" stroke="#231f20" stroke-width="3.4" />
<line x1="1072.54" y1="76.60" x2="1072.54" y2="91.10" stroke="#231f20" stroke-width="3.4" />
<line x1="1072.54" y1="476.60" x2="1072.54" y2="462.10" stroke="#231f20" stroke-width="3.4" />
<line x1="1179.30" y1="76.60" x2="1179.30" y2="91.10" stroke="#231f20" stroke-width="3.4" />
<line x1="1179.30" y1="476.60" x2="1179.30" y2="462.10" stroke="#231f20" stroke-width="3.4" />
<line x1="1286.06" y1="76.60" x2="1286.06" y2="91.10" stroke="#231f20" stroke-width="3.4" />
<line x1="1286.06" y1="476.60" x2="1286.06" y2="462.10" stroke="#231f20" stroke-width="3.4" />
<line x1="1392.82" y1="76.60" x2="1392.82" y2="91.10" stroke="#231f20" stroke-width="3.4" />
<line x1="1392.82" y1="476.60" x2="1392.82" y2="462.10" stroke="#231f20" stroke-width="3.4" />
<line x1="912.40" y1="396.40" x2="926.90" y2="396.40" stroke="#231f20" stroke-width="3.4" />
<line x1="1446.50" y1="396.40" x2="1432.00" y2="396.40" stroke="#231f20" stroke-width="3.4" />
<line x1="912.40" y1="316.40" x2="926.90" y2="316.40" stroke="#231f20" stroke-width="3.4" />
<line x1="1446.50" y1="316.40" x2="1432.00" y2="316.40" stroke="#231f20" stroke-width="3.4" />
<line x1="912.40" y1="236.40" x2="926.90" y2="236.40" stroke="#231f20" stroke-width="3.4" />
<line x1="1446.50" y1="236.40" x2="1432.00" y2="236.40" stroke="#231f20" stroke-width="3.4" />
<line x1="912.40" y1="156.40" x2="926.90" y2="156.40" stroke="#231f20" stroke-width="3.4" />
<line x1="1446.50" y1="156.40" x2="1432.00" y2="156.40" stroke="#231f20" stroke-width="3.4" />
<rect x="139.00" y="628.60" width="533.50" height="400.00" fill="none" stroke="#231f20" stroke-width="3.5"/>
<line x1="245.70" y1="628.60" x2="245.70" y2="643.10" stroke="#231f20" stroke-width="3.4" />
<line x1="245.70" y1="1028.60" x2="245.70" y2="1014.10" stroke="#231f20" stroke-width="3.4" />
<line x1="352.40" y1="628.60" x2="352.40" y2="643.10" stroke="#231f20" stroke-width="3.4" />
<line x1="352.40" y1="1028.60" x2="352.40" y2="1014.10" stroke="#231f20" stroke-width="3.4" />
<line x1="459.10" y1="628.60" x2="459.10" y2="643.10" stroke="#231f20" stroke-width="3.4" />
<line x1="459.10" y1="1028.60" x2="459.10" y2="1014.10" stroke="#231f20" stroke-width="3.4" />
<line x1="565.80" y1="628.60" x2="565.80" y2="643.10" stroke="#231f20" stroke-width="3.4" />
<line x1="565.80" y1="1028.60" x2="565.80" y2="1014.10" stroke="#231f20" stroke-width="3.4" />
<line x1="139.00" y1="928.60" x2="153.50" y2="928.60" stroke="#231f20" stroke-width="3.4" />
<line x1="672.50" y1="928.60" x2="658.00" y2="928.60" stroke="#231f20" stroke-width="3.4" />
<line x1="139.00" y1="828.60" x2="153.50" y2="828.60" stroke="#231f20" stroke-width="3.4" />
<line x1="672.50" y1="828.60" x2="658.00" y2="828.60" stroke="#231f20" stroke-width="3.4" />
<line x1="139.00" y1="728.60" x2="153.50" y2="728.60" stroke="#231f20" stroke-width="3.4" />
<line x1="672.50" y1="728.60" x2="658.00" y2="728.60" stroke="#231f20" stroke-width="3.4" />
<rect x="913.10" y="628.50" width="532.70" height="400.30" fill="none" stroke="#231f20" stroke-width="3.3"/>
<line x1="925.00" y1="628.50" x2="925.00" y2="643.00" stroke="#231f20" stroke-width="3.2" />
<line x1="925.00" y1="1028.80" x2="925.00" y2="1014.30" stroke="#231f20" stroke-width="3.2" />
<line x1="1052.38" y1="628.50" x2="1052.38" y2="643.00" stroke="#231f20" stroke-width="3.2" />
<line x1="1052.38" y1="1028.80" x2="1052.38" y2="1014.30" stroke="#231f20" stroke-width="3.2" />
<line x1="1179.75" y1="628.50" x2="1179.75" y2="643.00" stroke="#231f20" stroke-width="3.2" />
<line x1="1179.75" y1="1028.80" x2="1179.75" y2="1014.30" stroke="#231f20" stroke-width="3.2" />
<line x1="1307.12" y1="628.50" x2="1307.12" y2="643.00" stroke="#231f20" stroke-width="3.2" />
<line x1="1307.12" y1="1028.80" x2="1307.12" y2="1014.30" stroke="#231f20" stroke-width="3.2" />
<line x1="1434.50" y1="628.50" x2="1434.50" y2="643.00" stroke="#231f20" stroke-width="3.2" />
<line x1="1434.50" y1="1028.80" x2="1434.50" y2="1014.30" stroke="#231f20" stroke-width="3.2" />
<line x1="913.10" y1="914.40" x2="927.60" y2="914.40" stroke="#231f20" stroke-width="3.2" />
<line x1="1445.80" y1="914.40" x2="1431.30" y2="914.40" stroke="#231f20" stroke-width="3.2" />
<line x1="913.10" y1="800.00" x2="927.60" y2="800.00" stroke="#231f20" stroke-width="3.2" />
<line x1="1445.80" y1="800.00" x2="1431.30" y2="800.00" stroke="#231f20" stroke-width="3.2" />
<line x1="913.10" y1="685.60" x2="927.60" y2="685.60" stroke="#231f20" stroke-width="3.2" />
<line x1="1445.80" y1="685.60" x2="1431.30" y2="685.60" stroke="#231f20" stroke-width="3.2" />
<text transform="translate(11.73,37.67) scale(1,1.0901)" font-size="48.87" font-family="Liberation Sans" font-weight="bold" font-style="normal">a</text>
<text transform="translate(760.65,37.57) scale(1,0.9942)" font-size="53.60" font-family="Liberation Sans" font-weight="bold" font-style="normal">b</text>
<text transform="translate(10.86,591.37) scale(1,0.9963)" font-size="53.47" font-family="Liberation Sans" font-weight="bold" font-style="normal">c</text>
<text transform="translate(760.41,590.88) scale(1,0.9591)" font-size="54.71" font-family="Liberation Sans" font-weight="bold" font-style="normal">d</text>
<text transform="translate(60.20,85.37) scale(1,0.9714)" font-size="44.08" font-family="Liberation Sans" font-weight="normal" font-style="normal">2.0</text>
<g transform="translate(62.32,185.76) scale(1,1.0324)">
<text font-size="42.20" font-family="Liberation Sans" style="font-kerning:none"> .5</text>
<path transform="translate(0.00,0) scale(42.205)" d="M0.364,0 L0.364,-0.709 L0.292,-0.709 C0.272,-0.640 0.205,-0.592 0.088,-0.588 L0.088,-0.522 C0.170,-0.522 0.238,-0.538 0.270,-0.562 L0.270,0 Z" fill="#231f20"/>
</g>
<g transform="translate(62.30,285.77) scale(1,1.0122)">
<text font-size="42.44" font-family="Liberation Sans" style="font-kerning:none"> .0</text>
<path transform="translate(0.00,0) scale(42.441)" d="M0.364,0 L0.364,-0.709 L0.292,-0.709 C0.272,-0.640 0.205,-0.592 0.088,-0.588 L0.088,-0.522 C0.170,-0.522 0.238,-0.538 0.270,-0.562 L0.270,0 Z" fill="#231f20"/>
</g>
<text transform="translate(60.87,385.87) scale(1,0.9990)" font-size="43.28" font-family="Liberation Sans" font-weight="normal" font-style="normal">0.5</text>
<text transform="translate(96.71,486.27) scale(1,0.9653)" font-size="44.79" font-family="Liberation Sans" font-weight="normal" font-style="normal">0</text>
<text transform="translate(155.69,520.08) scale(1,0.9701)" font-size="42.83" font-family="Liberation Sans" font-weight="normal" font-style="normal">800</text>
<g transform="translate(250.51,520.08) scale(1,0.9795)">
<text font-size="42.42" font-family="Liberation Sans" style="font-kerning:none"> 000</text>
<path transform="translate(0.00,0) scale(42.417)" d="M0.364,0 L0.364,-0.709 L0.292,-0.709 C0.272,-0.640 0.205,-0.592 0.088,-0.588 L0.088,-0.522 C0.170,-0.522 0.238,-0.538 0.270,-0.562 L0.270,0 Z" fill="#231f20"/>
</g>
<g transform="translate(358.45,520.08) scale(1,0.9917)">
<text font-size="41.90" font-family="Liberation Sans" style="font-kerning:none"> 200</text>
<path transform="translate(0.00,0) scale(41.896)" d="M0.364,0 L0.364,-0.709 L0.292,-0.709 C0.272,-0.640 0.205,-0.592 0.088,-0.588 L0.088,-0.522 C0.170,-0.522 0.238,-0.538 0.270,-0.562 L0.270,0 Z" fill="#231f20"/>
</g>
<g transform="translate(464.21,520.08) scale(1,0.9806)">
<text font-size="42.37" font-family="Liberation Sans" style="font-kerning:none"> 400</text>
<path transform="translate(0.00,0) scale(42.370)" d="M0.364,0 L0.364,-0.709 L0.292,-0.709 C0.272,-0.640 0.205,-0.592 0.088,-0.588 L0.088,-0.522 C0.170,-0.522 0.238,-0.538 0.270,-0.562 L0.270,0 Z" fill="#231f20"/>
</g>
<g transform="translate(570.18,520.08) scale(1,0.9709)">
<text font-size="42.80" font-family="Liberation Sans" style="font-kerning:none"> 600</text>
<path transform="translate(0.00,0) scale(42.796)" d="M0.364,0 L0.364,-0.709 L0.292,-0.709 C0.272,-0.640 0.205,-0.592 0.088,-0.588 L0.088,-0.522 C0.170,-0.522 0.238,-0.538 0.270,-0.562 L0.270,0 Z" fill="#231f20"/>
</g>
<text transform="translate(133.21,66.80) scale(1,0.9765)" font-size="48.41" font-family="Liberation Sans" font-weight="normal" font-style="normal">×</text>
<g transform="translate(161.02,62.27) scale(1,1.0122)">
<text font-size="42.30" font-family="Liberation Sans" style="font-kerning:none"> 0</text>
<path transform="translate(0.00,0) scale(42.300)" d="M0.364,0 L0.364,-0.709 L0.292,-0.709 C0.272,-0.640 0.205,-0.592 0.088,-0.588 L0.088,-0.522 C0.170,-0.522 0.238,-0.538 0.270,-0.562 L0.270,0 Z" fill="#231f20"/>
</g>
<rect x="208.1" y="36.7" width="23.4" height="3.0" fill="#231f20"/>
<g transform="translate(231.12,50.40) scale(1,1.1536)">
<text font-size="37.65" font-family="Liberation Sans" style="font-kerning:none">2 </text>
<path transform="translate(20.94,0) scale(37.647)" d="M0.364,0 L0.364,-0.709 L0.292,-0.709 C0.272,-0.640 0.205,-0.592 0.088,-0.588 L0.088,-0.522 C0.170,-0.522 0.238,-0.538 0.270,-0.562 L0.270,0 Z" fill="#231f20"/>
</g>
<text transform="translate(224.10,583.77) scale(1,1.0150)" font-size="47.99" font-family="Liberation Sans" font-weight="normal" font-style="normal">Wavelength (nm)</text>
<g transform="translate(835.88,85.77) scale(1,1.0047)">
<text font-size="42.76" font-family="Liberation Sans" style="font-kerning:none"> .0</text>
<path transform="translate(0.00,0) scale(42.756)" d="M0.364,0 L0.364,-0.709 L0.292,-0.709 C0.272,-0.640 0.205,-0.592 0.088,-0.588 L0.088,-0.522 C0.170,-0.522 0.238,-0.538 0.270,-0.562 L0.270,0 Z" fill="#231f20"/>
</g>
<text transform="translate(834.64,166.47) scale(1,0.9763)" font-size="44.00" font-family="Liberation Sans" font-weight="normal" font-style="normal">0.8</text>
<text transform="translate(834.64,246.47) scale(1,0.9763)" font-size="44.00" font-family="Liberation Sans" font-weight="normal" font-style="normal">0.6</text>
<text transform="translate(834.67,326.47) scale(1,0.9913)" font-size="43.33" font-family="Liberation Sans" font-weight="normal" font-style="normal">0.4</text>
<text transform="translate(834.64,406.47) scale(1,0.9763)" font-size="44.00" font-family="Liberation Sans" font-weight="normal" font-style="normal">0.2</text>
<text transform="translate(870.64,486.28) scale(1,0.9644)" font-size="43.96" font-family="Liberation Sans" font-weight="normal" font-style="normal">0</text>
<text transform="translate(930.05,520.49) scale(1,0.9621)" font-size="42.45" font-family="Liberation Sans" font-weight="normal" font-style="normal">800</text>
<g transform="translate(1025.69,520.49) scale(1,0.9716)">
<text font-size="42.04" font-family="Liberation Sans" style="font-kerning:none"> 000</text>
<path transform="translate(0.00,0) scale(42.038)" d="M0.364,0 L0.364,-0.709 L0.292,-0.709 C0.272,-0.640 0.205,-0.592 0.088,-0.588 L0.088,-0.522 C0.170,-0.522 0.238,-0.538 0.270,-0.562 L0.270,0 Z" fill="#231f20"/>
</g>
<g transform="translate(1131.51,520.49) scale(1,0.9640)">
<text font-size="42.37" font-family="Liberation Sans" style="font-kerning:none"> 200</text>
<path transform="translate(0.00,0) scale(42.370)" d="M0.364,0 L0.364,-0.709 L0.292,-0.709 C0.272,-0.640 0.205,-0.592 0.088,-0.588 L0.088,-0.522 C0.170,-0.522 0.238,-0.538 0.270,-0.562 L0.270,0 Z" fill="#231f20"/>
</g>
<g transform="translate(1238.31,520.49) scale(1,0.9640)">
<text font-size="42.37" font-family="Liberation Sans" style="font-kerning:none"> 400</text>
<path transform="translate(0.00,0) scale(42.370)" d="M0.364,0 L0.364,-0.709 L0.292,-0.709 C0.272,-0.640 0.205,-0.592 0.088,-0.588 L0.088,-0.522 C0.170,-0.522 0.238,-0.538 0.270,-0.562 L0.270,0 Z" fill="#231f20"/>
</g>
<g transform="translate(1345.41,520.49) scale(1,0.9640)">
<text font-size="42.37" font-family="Liberation Sans" style="font-kerning:none"> 600</text>
<path transform="translate(0.00,0) scale(42.370)" d="M0.364,0 L0.364,-0.709 L0.292,-0.709 C0.272,-0.640 0.205,-0.592 0.088,-0.588 L0.088,-0.522 C0.170,-0.522 0.238,-0.538 0.270,-0.562 L0.270,0 Z" fill="#231f20"/>
</g>
<text transform="translate(997.80,583.87) scale(1,1.0136)" font-size="48.06" font-family="Liberation Sans" font-weight="normal" font-style="normal">Wavelength (nm)</text>
<g transform="translate(61.90,637.07) scale(1,1.0103)">
<text font-size="42.52" font-family="Liberation Sans" style="font-kerning:none"> .0</text>
<path transform="translate(0.00,0) scale(42.520)" d="M0.364,0 L0.364,-0.709 L0.292,-0.709 C0.272,-0.640 0.205,-0.592 0.088,-0.588 L0.088,-0.522 C0.170,-0.522 0.238,-0.538 0.270,-0.562 L0.270,0 Z" fill="#231f20"/>
</g>
<text transform="translate(60.86,737.07) scale(1,0.9849)" font-size="43.62" font-family="Liberation Sans" font-weight="normal" font-style="normal">0.8</text>
<text transform="translate(60.86,837.07) scale(1,0.9849)" font-size="43.62" font-family="Liberation Sans" font-weight="normal" font-style="normal">0.6</text>
<text transform="translate(60.88,937.07) scale(1,1.0001)" font-size="42.95" font-family="Liberation Sans" font-weight="normal" font-style="normal">0.4</text>
<text transform="translate(60.86,1037.97) scale(1,0.9849)" font-size="43.62" font-family="Liberation Sans" font-weight="normal" font-style="normal">0.2</text>
<g transform="translate(91.81,1080.99) scale(1,0.9784)">
<text font-size="42.32" font-family="Liberation Sans" style="font-kerning:none"> 540</text>
<path transform="translate(0.00,0) scale(42.322)" d="M0.364,0 L0.364,-0.709 L0.292,-0.709 C0.272,-0.640 0.205,-0.592 0.088,-0.588 L0.088,-0.522 C0.170,-0.522 0.238,-0.538 0.270,-0.562 L0.270,0 Z" fill="#231f20"/>
</g>
<g transform="translate(198.67,1080.98) scale(1,1.0389)">
<text font-size="40.43" font-family="Liberation Sans" style="font-kerning:none"> 54 </text>
<path transform="translate(0.00,0) scale(40.429)" d="M0.364,0 L0.364,-0.709 L0.292,-0.709 C0.272,-0.640 0.205,-0.592 0.088,-0.588 L0.088,-0.522 C0.170,-0.522 0.238,-0.538 0.270,-0.562 L0.270,0 Z" fill="#231f20"/>
<path transform="translate(67.45,0) scale(40.429)" d="M0.364,0 L0.364,-0.709 L0.292,-0.709 C0.272,-0.640 0.205,-0.592 0.088,-0.588 L0.088,-0.522 C0.170,-0.522 0.238,-0.538 0.270,-0.562 L0.270,0 Z" fill="#231f20"/>
</g>
<g transform="translate(305.20,1080.99) scale(1,0.9749)">
<text font-size="42.48" font-family="Liberation Sans" style="font-kerning:none"> 542</text>
<path transform="translate(0.00,0) scale(42.476)" d="M0.364,0 L0.364,-0.709 L0.292,-0.709 C0.272,-0.640 0.205,-0.592 0.088,-0.588 L0.088,-0.522 C0.170,-0.522 0.238,-0.538 0.270,-0.562 L0.270,0 Z" fill="#231f20"/>
</g>
<g transform="translate(412.73,1080.99) scale(1,0.9837)">
<text font-size="42.10" font-family="Liberation Sans" style="font-kerning:none"> 543</text>
<path transform="translate(0.00,0) scale(42.095)" d="M0.364,0 L0.364,-0.709 L0.292,-0.709 C0.272,-0.640 0.205,-0.592 0.088,-0.588 L0.088,-0.522 C0.170,-0.522 0.238,-0.538 0.270,-0.562 L0.270,0 Z" fill="#231f20"/>
</g>
<g transform="translate(518.50,1080.98) scale(1,0.9882)">
<text font-size="42.50" font-family="Liberation Sans" style="font-kerning:none"> 544</text>
<path transform="translate(0.00,0) scale(42.500)" d="M0.364,0 L0.364,-0.709 L0.292,-0.709 C0.272,-0.640 0.205,-0.592 0.088,-0.588 L0.088,-0.522 C0.170,-0.522 0.238,-0.538 0.270,-0.562 L0.270,0 Z" fill="#231f20"/>
</g>
<g transform="translate(626.00,1080.98) scale(1,0.9880)">
<text font-size="42.51" font-family="Liberation Sans" style="font-kerning:none"> 545</text>
<path transform="translate(0.00,0) scale(42.512)" d="M0.364,0 L0.364,-0.709 L0.292,-0.709 C0.272,-0.640 0.205,-0.592 0.088,-0.588 L0.088,-0.522 C0.170,-0.522 0.238,-0.538 0.270,-0.562 L0.270,0 Z" fill="#231f20"/>
</g>
<text transform="translate(224.40,1138.64) scale(1,1.0083)" font-size="47.99" font-family="Liberation Sans" font-weight="normal" font-style="normal">Wavelength (nm)</text>
<text transform="translate(799.28,700.18) scale(1,0.9711)" font-size="42.93" font-family="Liberation Sans" font-weight="normal" font-style="normal">3000</text>
<text transform="translate(798.43,813.57) scale(1,0.9917)" font-size="43.32" font-family="Liberation Sans" font-weight="normal" font-style="normal">2000</text>
<g transform="translate(800.72,928.88) scale(1,1.0028)">
<text font-size="42.27" font-family="Liberation Sans" style="font-kerning:none"> 000</text>
<path transform="translate(0.00,0) scale(42.275)" d="M0.364,0 L0.364,-0.709 L0.292,-0.709 C0.272,-0.640 0.205,-0.592 0.088,-0.588 L0.088,-0.522 C0.170,-0.522 0.238,-0.538 0.270,-0.562 L0.270,0 Z" fill="#231f20"/>
</g>
<text transform="translate(870.46,1037.98) scale(1,0.9575)" font-size="43.54" font-family="Liberation Sans" font-weight="normal" font-style="normal">0</text>
<text transform="translate(876.06,1080.99) scale(1,0.9399)" font-size="43.46" font-family="Liberation Sans" font-weight="normal" font-style="normal">800</text>
<text transform="translate(1009.66,1080.99) scale(1,0.9399)" font-size="43.46" font-family="Liberation Sans" font-weight="normal" font-style="normal">850</text>
<text transform="translate(1141.78,1080.99) scale(1,0.9219)" font-size="44.30" font-family="Liberation Sans" font-weight="normal" font-style="normal">900</text>
<text transform="translate(1275.38,1080.99) scale(1,0.9219)" font-size="44.30" font-family="Liberation Sans" font-weight="normal" font-style="normal">950</text>
<g transform="translate(1399.48,1080.99) scale(1,1.0163)">
<text font-size="40.19" font-family="Liberation Sans" style="font-kerning:none"> 000</text>
<path transform="translate(0.00,0) scale(40.190)" d="M0.364,0 L0.364,-0.709 L0.292,-0.709 C0.272,-0.640 0.205,-0.592 0.088,-0.588 L0.088,-0.522 C0.170,-0.522 0.238,-0.538 0.270,-0.562 L0.270,0 Z" fill="#231f20"/>
</g>
<text transform="translate(786.70,428.77) rotate(-90) scale(1,1.0300)" font-size="48.59" font-family="Liberation Sans" font-weight="normal" font-style="normal">Transmittance</text>
<text transform="translate(35.20,979.99) rotate(-90) scale(1,1.0300)" font-size="49.65" font-family="Liberation Sans" font-weight="normal" font-style="normal">Transmittance</text>
<text transform="translate(788.20,971.48) rotate(-90) scale(1,1.0300)" font-size="48.34" font-family="Liberation Sans" font-weight="normal" font-style="normal">Quality factor</text>
<text transform="translate(36.50,405.75) rotate(-90) scale(1,1.0000)" font-size="47.14" font-family="Liberation Serif" font-weight="normal" font-style="normal">Im</text>
<text transform="translate(40.20,351.78) rotate(-90) scale(1,1.0000)" font-size="53.00" font-family="Liberation Serif" font-weight="normal" font-style="normal">[</text>
<text transform="translate(36.50,340.32) rotate(-90) scale(1,1.0000)" font-size="47.25" font-family="Liberation Serif" font-weight="normal" font-style="italic">α</text>
<text transform="translate(37.30,309.20) rotate(-90) scale(1,1.0000)" font-size="49.00" font-family="Liberation Serif" font-weight="normal" font-style="normal">(</text>
<text transform="translate(36.50,296.65) rotate(-90) scale(1,1.0000)" font-size="41.43" font-family="Liberation Serif" font-weight="normal" font-style="italic">ω</text>
<text transform="translate(37.30,268.07) rotate(-90) scale(1,1.0000)" font-size="49.00" font-family="Liberation Serif" font-weight="normal" font-style="normal">)</text>
<text transform="translate(40.20,250.75) rotate(-90) scale(1,1.0000)" font-size="53.00" font-family="Liberation Serif" font-weight="normal" font-style="normal">]</text>
<text transform="translate(43.50,238.95) rotate(-90) scale(1,1.0000)" font-size="49.20" font-family="Liberation Sans" font-weight="normal" font-style="normal">(</text>
<text transform="translate(43.50,223.87) rotate(-90) scale(1,1.0000)" font-size="47.23" font-family="Liberation Sans" font-weight="normal" font-style="normal">m</text>
<text transform="translate(27.70,184.02) rotate(-90) scale(1,1.0000)" font-size="28.00" font-family="Liberation Sans" font-weight="normal" font-style="normal">3</text>
<text transform="translate(43.50,166.25) rotate(-90) scale(1,1.0000)" font-size="49.20" font-family="Liberation Sans" font-weight="normal" font-style="normal">)</text>
<text transform="translate(477.33,185.00) scale(1,1.0000)" font-size="34.94" font-family="Liberation Sans" font-weight="normal" font-style="normal">increasing</text>
<path d="M518.32,193.52 L526.37,218.31" stroke="#231f20" stroke-width="3.02" fill="none" stroke-linecap="butt"/>
<path d="M515.39,192.01 Q517.95,191.33 519.24,194.89" stroke="#231f20" stroke-width="1.65" fill="none" stroke-linecap="round"/>
<path d="M521.43,205.30 L512.10,218.04" stroke="#231f20" stroke-width="1.74" fill="none" stroke-linecap="round"/>
<path d="M524.91,218.59 L528.75,218.59" stroke="#231f20" stroke-width="1.10" fill="none" stroke-linecap="butt"/>
<text transform="translate(531.20,223.80) scale(1,0.8750)" font-size="29.87" font-family="Liberation Serif" font-weight="normal" font-style="normal">LSPR</text>
<text transform="translate(1166.03,265.20) scale(1,1.0000)" font-size="34.94" font-family="Liberation Sans" font-weight="normal" font-style="normal">increasing</text>
<path d="M1207.02,273.72 L1215.07,298.51" stroke="#231f20" stroke-width="3.02" fill="none" stroke-linecap="butt"/>
<path d="M1204.09,272.21 Q1206.65,271.53 1207.93,275.09" stroke="#231f20" stroke-width="1.65" fill="none" stroke-linecap="round"/>
<path d="M1210.13,285.50 L1200.80,298.24" stroke="#231f20" stroke-width="1.74" fill="none" stroke-linecap="round"/>
<path d="M1213.61,298.79 L1217.45,298.79" stroke="#231f20" stroke-width="1.10" fill="none" stroke-linecap="butt"/>
<text transform="translate(1219.90,304.00) scale(1,0.8750)" font-size="29.87" font-family="Liberation Serif" font-weight="normal" font-style="normal">LSPR</text>
<text transform="translate(1228.04,700.50) scale(1,1.0000)" font-size="34.80" font-family="Liberation Sans" font-weight="normal" font-style="normal">increasing</text>
<text transform="translate(1396.50,700.50) scale(1,1.0000)" font-size="32.63" font-family="Liberation Sans" font-weight="normal" font-style="normal">A</text>
<text transform="translate(1418.38,711.90) scale(1,1.2500)" font-size="20.42" font-family="Liberation Sans" font-weight="normal" font-style="normal">0</text>
<text transform="translate(1002.20,917.40) scale(1,1.0000)" font-size="28.87" font-family="Liberation Sans" font-weight="normal" font-style="normal">A</text>
<text transform="translate(1020.68,926.90) scale(1,1.2500)" font-size="17.92" font-family="Liberation Sans" font-weight="normal" font-style="normal">0</text>
<text transform="translate(1038.26,916.90) scale(1,1.0000)" font-size="28.80" font-family="Liberation Sans" font-weight="normal" font-style="normal">=</text>
<text transform="translate(1063.35,917.40) scale(1,1.0000)" font-size="27.64" font-family="Liberation Sans" font-weight="normal" font-style="normal">4.0</text>
<text transform="translate(1110.48,917.90) scale(1,1.0000)" font-size="28.80" font-family="Liberation Sans" font-weight="normal" font-style="normal">×</text>
<g transform="translate(1135.03,917.40) scale(1,1.0000)">
<text font-size="28.90" font-family="Liberation Sans" style="font-kerning:none"> 0</text>
<path transform="translate(0.00,0) scale(28.900)" d="M0.364,0 L0.364,-0.709 L0.292,-0.709 C0.272,-0.640 0.205,-0.592 0.088,-0.588 L0.088,-0.522 C0.170,-0.522 0.238,-0.538 0.270,-0.562 L0.270,0 Z" fill="#231f20"/>
</g>
<text transform="translate(1166.83,908.20) scale(1,1.0000)" font-size="17.00" font-family="Liberation Sans" font-weight="normal" font-style="normal">-7</text>
<text transform="translate(1190.58,917.40) scale(1,1.0000)" font-size="29.50" font-family="Liberation Sans" font-weight="normal" font-style="normal">m</text>
<text transform="translate(1212.82,907.90) scale(1,1.0000)" font-size="17.00" font-family="Liberation Sans" font-weight="normal" font-style="normal">3</text>
<text transform="translate(1222.50,917.40) scale(1,1.0000)" font-size="28.80" font-family="Liberation Sans" font-weight="normal" font-style="normal">/s</text>
<text transform="translate(1002.20,955.00) scale(1,1.0000)" font-size="28.87" font-family="Liberation Sans" font-weight="normal" font-style="normal">A</text>
<text transform="translate(1020.68,964.50) scale(1,1.2500)" font-size="17.92" font-family="Liberation Sans" font-weight="normal" font-style="normal">0</text>
<text transform="translate(1038.26,954.50) scale(1,1.0000)" font-size="28.80" font-family="Liberation Sans" font-weight="normal" font-style="normal">=</text>
<text transform="translate(1063.35,955.00) scale(1,1.0000)" font-size="27.54" font-family="Liberation Sans" font-weight="normal" font-style="normal">4.4</text>
<text transform="translate(1110.48,955.50) scale(1,1.0000)" font-size="28.80" font-family="Liberation Sans" font-weight="normal" font-style="normal">×</text>
<g transform="translate(1135.03,955.00) scale(1,1.0000)">
<text font-size="28.90" font-family="Liberation Sans" style="font-kerning:none"> 0</text>
<path transform="translate(0.00,0) scale(28.900)" d="M0.364,0 L0.364,-0.709 L0.292,-0.709 C0.272,-0.640 0.205,-0.592 0.088,-0.588 L0.088,-0.522 C0.170,-0.522 0.238,-0.538 0.270,-0.562 L0.270,0 Z" fill="#231f20"/>
</g>
<text transform="translate(1166.83,945.80) scale(1,1.0000)" font-size="17.00" font-family="Liberation Sans" font-weight="normal" font-style="normal">-7</text>
<text transform="translate(1190.58,955.00) scale(1,1.0000)" font-size="29.50" font-family="Liberation Sans" font-weight="normal" font-style="normal">m</text>
<text transform="translate(1212.82,945.50) scale(1,1.0000)" font-size="17.00" font-family="Liberation Sans" font-weight="normal" font-style="normal">3</text>
<text transform="translate(1222.50,955.00) scale(1,1.0000)" font-size="28.80" font-family="Liberation Sans" font-weight="normal" font-style="normal">/s</text>
<text transform="translate(1002.20,993.50) scale(1,1.0000)" font-size="28.87" font-family="Liberation Sans" font-weight="normal" font-style="normal">A</text>
<text transform="translate(1020.68,1003.00) scale(1,1.2500)" font-size="17.92" font-family="Liberation Sans" font-weight="normal" font-style="normal">0</text>
<text transform="translate(1038.26,993.00) scale(1,1.0000)" font-size="28.80" font-family="Liberation Sans" font-weight="normal" font-style="normal">=</text>
<text transform="translate(1063.35,993.50) scale(1,1.0000)" font-size="27.74" font-family="Liberation Sans" font-weight="normal" font-style="normal">4.8</text>
<text transform="translate(1110.48,994.00) scale(1,1.0000)" font-size="28.80" font-family="Liberation Sans" font-weight="normal" font-style="normal">×</text>
<g transform="translate(1135.03,993.50) scale(1,1.0000)">
<text font-size="28.90" font-family="Liberation Sans" style="font-kerning:none"> 0</text>
<path transform="translate(0.00,0) scale(28.900)" d="M0.364,0 L0.364,-0.709 L0.292,-0.709 C0.272,-0.640 0.205,-0.592 0.088,-0.588 L0.088,-0.522 C0.170,-0.522 0.238,-0.538 0.270,-0.562 L0.270,0 Z" fill="#231f20"/>
</g>
<text transform="translate(1166.83,984.30) scale(1,1.0000)" font-size="17.00" font-family="Liberation Sans" font-weight="normal" font-style="normal">-7</text>
<text transform="translate(1190.58,993.50) scale(1,1.0000)" font-size="29.50" font-family="Liberation Sans" font-weight="normal" font-style="normal">m</text>
<text transform="translate(1212.82,984.00) scale(1,1.0000)" font-size="17.00" font-family="Liberation Sans" font-weight="normal" font-style="normal">3</text>
<text transform="translate(1222.50,993.50) scale(1,1.0000)" font-size="28.80" font-family="Liberation Sans" font-weight="normal" font-style="normal">/s</text>
<path d="M1065.62,1095.97 L1079.61,1134.34" stroke="#231f20" stroke-width="5.25" fill="none" stroke-linecap="butt"/>
<path d="M1060.53,1093.64 Q1064.98,1092.58 1067.21,1098.09" stroke="#231f20" stroke-width="2.86" fill="none" stroke-linecap="round"/>
<path d="M1071.03,1114.20 L1054.81,1133.92" stroke="#231f20" stroke-width="3.02" fill="none" stroke-linecap="round"/>
<path d="M1077.07,1134.76 L1083.75,1134.76" stroke="#231f20" stroke-width="1.70" fill="none" stroke-linecap="butt"/>
<text transform="translate(1085.88,1143.90) scale(1,0.8700)" font-size="47.25" font-family="Liberation Serif" font-weight="normal" font-style="normal">LSPR</text>
<text transform="translate(1214.02,1140.10) scale(1,1.0000)" font-size="48.08" font-family="Liberation Sans" font-weight="normal" font-style="normal">(nm)</text>
</svg></body></html>
